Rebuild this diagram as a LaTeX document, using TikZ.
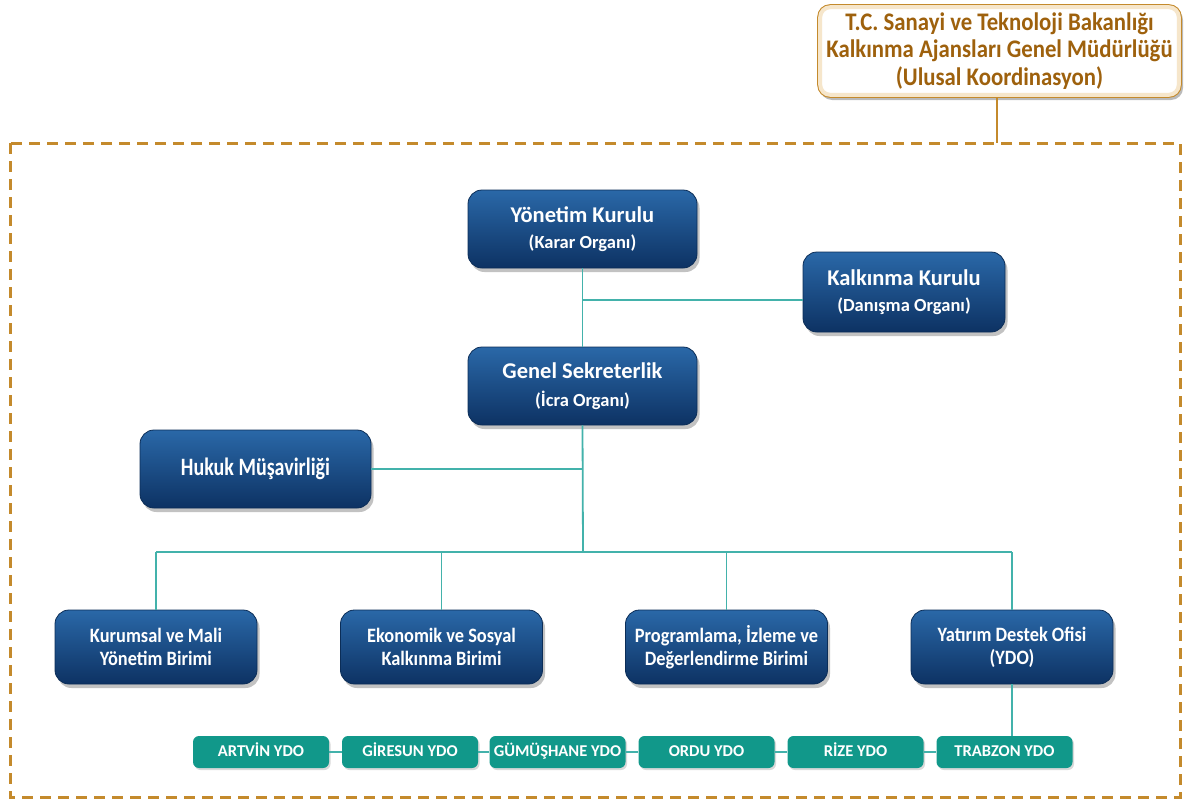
\documentclass[tikz,border=0pt]{standalone}
\usepackage{fontspec}
\setmainfont{Carlito}
\newfontfamily\fhuk{Carlito}[FakeStretch=0.8]
\newfontfamily\fnine{Carlito}[FakeStretch=0.9]
\usetikzlibrary{shadows}
\definecolor{bluetop}{HTML}{2A68A8}
\definecolor{bluemid}{HTML}{1D5A99}
\definecolor{bluebot}{HTML}{0D3263}
\definecolor{bluedraw}{HTML}{0B2D57}
\definecolor{tealline}{HTML}{43B2AB}
\definecolor{greenbox}{HTML}{11988A}
\definecolor{gold}{HTML}{C48A2C}
\definecolor{goldtext}{HTML}{9E610D}
\definecolor{cream}{HTML}{F6E6CB}
\tikzset{
  bluebox/.style={rounded corners=14pt, top color=bluetop, middle color=bluemid, bottom color=bluebot, draw=bluedraw, line width=0.8pt,
    text=white, align=center, inner sep=0pt,
    drop shadow={shadow xshift=2.5pt, shadow yshift=-4pt, fill=black!60, opacity=0.4}},
  bigblue/.style={bluebox, minimum width=229pt, minimum height=78pt},
  midblue/.style={bluebox, minimum width=202pt, minimum height=80pt},
  unitbox/.style={bluebox, minimum width=202pt, minimum height=74pt, font=\bfseries\fnine\fontsize{20.4}{23}\selectfont},
  ydobox/.style={rounded corners=6pt, fill=greenbox, text=white, minimum width=136pt, minimum height=32pt, inner sep=0pt,
    text height=11pt, text depth=2pt,
    font=\bfseries\fontsize{16.5}{18}\selectfont,
    drop shadow={shadow xshift=1.5pt, shadow yshift=-2pt, fill=black!50, opacity=0.3}},
  conn/.style={draw=tealline, line width=1.8pt},
  goldline/.style={draw=gold, line width=2.4pt},
  border/.style={draw=gold, line width=3pt, dash pattern=on 11pt off 7pt},
  topbox/.style={rounded corners=12pt, draw=gold, line width=1.6pt, fill=white,
    text=goldtext, align=center, minimum width=363pt, minimum height=92pt, inner sep=0pt,
    font=\bfseries\fnine\fontsize{25.3}{27.5}\selectfont,
    drop shadow={shadow xshift=2pt, shadow yshift=-3pt, fill=black!60, opacity=0.45}},
  glow/.style={draw=cream, line width=4pt, rounded corners=10pt},
}
\newcommand{\ttl}[2]{{\bfseries\fontsize{22.5}{24}\selectfont #1}\\[11pt]{\bfseries\fontsize{18.5}{22}\selectfont #2}}
\begin{document}
\begin{tikzpicture}[x=1pt,y=-1pt]
\useasboundingbox (0,0) rectangle (1185,800);
% dashed frame
\draw[border] (10,143) rectangle (1180,797);
\coordinate (frametop) at (997,143);
% ministry box
\node[topbox] (min) at (999.5,51) {\phantom{X}};
\draw[glow] ([shift={(3pt,-3pt)}]min.north west) rectangle ([shift={(-3pt,3pt)}]min.south east);
\node[text=goldtext, align=center, font=\bfseries\fnine\fontsize{25.3}{27.5}\selectfont] (mintext) at (min.center) {T.C. Sanayi ve Teknoloji Bakanlığı\\Kalkınma Ajansları Genel Müdürlüğü\\(Ulusal Koordinasyon)};
\draw[goldline] (min.south -| frametop) -- (frametop);
% main boxes
\node[bigblue] (yk) at (582.5,229) {\ttl{Yönetim Kurulu}{(Karar Organı)}};
\node[midblue] (kk) at (904,292) {\ttl{Kalkınma Kurulu}{(Danışma Organı)}};
\node[bigblue] (gs) at (582.5,386) {\ttl{Genel Sekreterlik}{(İcra Organı)}};
\node[bigblue, minimum width=231pt, font=\bfseries\fhuk\fontsize{25}{28}\selectfont] (hm) at (255.5,469) {Hukuk Müşavirliği};
% units
\node[unitbox] (u1) at (156,647) {Kurumsal ve Mali\\Yönetim Birimi};
\node[unitbox] (u2) at (441.5,647) {Ekonomik ve Sosyal\\Kalkınma Birimi};
\node[unitbox] (u3) at (726.5,647) {Programlama, İzleme ve\\Değerlendirme Birimi};
\node[unitbox] (u4) at (1012,647) {Yatırım Destek Ofisi\\(YDO)};
% YDO offices
\node[ydobox] (y1) at (261,752) {ARTVİN YDO};
\node[ydobox] (y2) at (410,752) {GİRESUN YDO};
\node[ydobox] (y3) at (557.5,752) {GÜMÜŞHANE YDO};
\node[ydobox] (y4) at (706.5,752) {ORDU YDO};
\node[ydobox] (y5) at (855.5,752) {RİZE YDO};
\node[ydobox] (y6) at (1004.5,752) {TRABZON YDO};
% connectors
\coordinate (bus) at (583,552);
\draw[conn] (yk.south) -- (gs.north);
\draw[conn] ([yshift=-8pt]kk.west -| yk.south) -- ([yshift=-8pt]kk.west);
\draw[conn] (gs.south) -- (bus);
\draw[conn] (hm.east) -- (hm.east -| gs.south);
\draw[conn] (u1.north |- bus) -- (u4.north |- bus);
\draw[conn] (u1.north |- bus) -- (u1.north);
\draw[conn] (u2.north |- bus) -- (u2.north);
\draw[conn] (u3.north |- bus) -- (u3.north);
\draw[conn] (u4.north |- bus) -- (u4.north);
\draw[conn] (u4.south) -- (u4.south |- y6.north);
\draw[conn] (y1.east) -- (y2.west);
\draw[conn] (y2.east) -- (y3.west);
\draw[conn] (y3.east) -- (y4.west);
\draw[conn] (y4.east) -- (y5.west);
\draw[conn] (y5.east) -- (y6.west);
\end{tikzpicture}
\end{document}
